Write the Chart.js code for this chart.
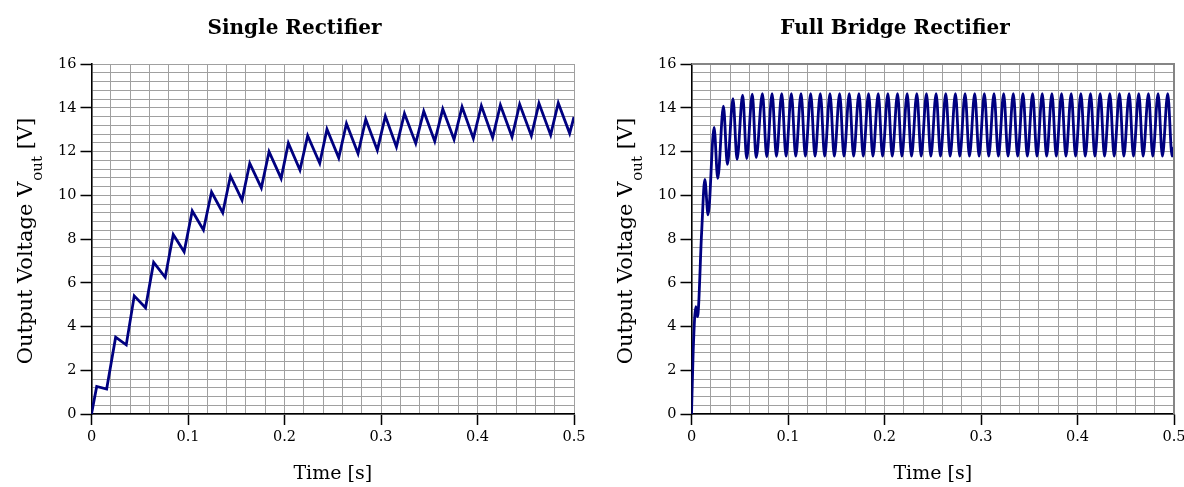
<!DOCTYPE html>
<html>
<head>
<meta charset="utf-8">
<script src="https://cdn.jsdelivr.net/npm/chart.js@4.4.1/dist/chart.umd.min.js"></script>
<style>
  body { margin: 0; background: #fff; }
  #wrap { position: relative; width: 1184px; height: 487px; overflow: hidden; }
  canvas { position: absolute; top: 0; }
</style>
</head>
<body>
<div id="wrap">
  <canvas id="single" width="592" height="487" style="left:0"></canvas>
  <canvas id="bridge" width="600" height="487" style="left:592px"></canvas>
</div>
<script>
// half wave rectifier (trough / peak pairs)
const singleTime = [0, 0.0054, 0.0157, 0.025, 0.036, 0.0443, 0.056, 0.0644, 0.0764, 0.0847,
  0.096, 0.1044, 0.116, 0.1244, 0.136, 0.144, 0.156, 0.164, 0.176, 0.184,
  0.1965, 0.204, 0.216, 0.224, 0.2365, 0.244, 0.2562, 0.2642, 0.2762, 0.2842,
  0.2962, 0.3045, 0.316, 0.3243, 0.336, 0.3443, 0.3557, 0.364, 0.3757, 0.384,
  0.3957, 0.404, 0.4157, 0.4237, 0.4358, 0.4437, 0.4558, 0.4637, 0.4758, 0.4837,
  0.4955, 0.5];
const singleVolt = [0, 1.26, 1.14, 3.51, 3.16, 5.40, 4.86, 6.93, 6.25, 8.21,
  7.42, 9.28, 8.41, 10.15, 9.20, 10.88, 9.78, 11.46, 10.34, 11.99,
  10.77, 12.38, 11.15, 12.72, 11.46, 13.02, 11.71, 13.28, 11.91, 13.47,
  12.06, 13.62, 12.21, 13.74, 12.37, 13.84, 12.47, 13.94, 12.55, 14.04,
  12.60, 14.09, 12.64, 14.12, 12.67, 14.16, 12.72, 14.20, 12.76, 14.22,
  12.83, 13.58];

// full bridge, right plot
const bridgeTime = [0, 0.0017, 0.0045, 0.0062, 0.0105, 0.0138, 0.0172, 0.0234, 0.0272, 0.0331,
  0.0372, 0.043, 0.0472, 0.053, 0.0572, 0.063, 0.067,
  0.0735, 0.078, 0.0835, 0.088, 0.0935, 0.098, 0.1035, 0.108, 0.1135, 0.118,
  0.1235, 0.128, 0.1335, 0.138, 0.1435, 0.148, 0.1535, 0.158, 0.1635, 0.168,
  0.1735, 0.178, 0.1835, 0.188, 0.1935, 0.198, 0.2035, 0.208, 0.2135, 0.218,
  0.2235, 0.228, 0.2335, 0.238, 0.2435, 0.248, 0.2535, 0.258, 0.2635, 0.268,
  0.2735, 0.278, 0.2835, 0.288, 0.2935, 0.298, 0.3035, 0.308, 0.3135, 0.318,
  0.3235, 0.328, 0.3335, 0.338, 0.3435, 0.348, 0.3535, 0.358, 0.3635, 0.368,
  0.3735, 0.378, 0.3835, 0.388, 0.3935, 0.398, 0.4035, 0.408, 0.4135, 0.418,
  0.4235, 0.428, 0.4335, 0.438, 0.4435, 0.448, 0.4535, 0.458, 0.4635, 0.468,
  0.4735, 0.478, 0.4835, 0.488, 0.4935, 0.498, 0.5];
const bridgeVolt = [0, 2.80, 4.91, 4.45, 8.30, 10.73, 9.10, 13.10, 10.77, 14.07,
  11.41, 14.42, 11.64, 14.58, 11.68, 14.62, 11.72,
  14.64, 11.76, 14.65, 11.78, 14.65, 11.79, 14.65, 11.79, 14.65, 11.79,
  14.65, 11.79, 14.65, 11.79, 14.65, 11.79, 14.65, 11.79, 14.65, 11.79,
  14.65, 11.79, 14.65, 11.79, 14.65, 11.79, 14.65, 11.79, 14.65, 11.79,
  14.65, 11.79, 14.65, 11.79, 14.65, 11.79, 14.65, 11.79, 14.65, 11.79,
  14.65, 11.79, 14.65, 11.79, 14.65, 11.79, 14.65, 11.79, 14.65, 11.79,
  14.65, 11.79, 14.65, 11.79, 14.65, 11.79, 14.65, 11.79, 14.65, 11.79,
  14.65, 11.79, 14.65, 11.79, 14.65, 11.79, 14.65, 11.79, 14.65, 11.79,
  14.65, 11.79, 14.65, 11.79, 14.65, 11.79, 14.65, 11.79, 14.65, 11.79,
  14.65, 11.79, 14.65, 11.79, 14.65, 11.79, 12.20];

const xTicks = ['0', '0.1', '0.2', '0.3', '0.4', '0.5'];
const yTicks = ['0', '2', '4', '6', '8', '10', '12', '14', '16'];

const FONT = '"DejaVu Serif", serif';
const LINE = '#000080';
Chart.defaults.font.family = FONT;
Chart.defaults.color = '#000';

const near = (v, step) => Math.abs(v / step - Math.round(v / step)) < 1e-6;

// y title with subscript, canvas title can't do sub
const yTitle = {
  id: 'yTitle',
  afterDraw(chart) {
    const { ctx, chartArea: a } = chart;
    const big = '21px ' + FONT, small = '15px ' + FONT;
    const t1 = 'Output Voltage V', t2 = 'out', t3 = ' [V]';
    ctx.save();
    ctx.fillStyle = '#000';
    ctx.textBaseline = 'alphabetic';
    ctx.font = big;
    const w1 = ctx.measureText(t1).width, w3 = ctx.measureText(t3).width;
    ctx.font = small;
    const w2 = ctx.measureText(t2).width;
    ctx.translate(a.left - 60, (a.top + a.bottom) / 2 + 2);
    ctx.rotate(-Math.PI / 2);
    let x = -(w1 + w2 + w3 + 1) / 2;
    ctx.font = big; ctx.fillText(t1, x, 0); x += w1 + 1;
    ctx.font = small; ctx.fillText(t2, x, 10); x += w2;
    ctx.font = big; ctx.fillText(t3, x, 0);
    ctx.restore();
  }
};

const frame = {
  id: 'frame',
  afterDraw(chart, args, opts) {
    if (!opts.on) return;
    const { ctx, chartArea: a } = chart;
    ctx.save();
    ctx.strokeStyle = '#858585';
    ctx.lineWidth = 2;
    ctx.beginPath();
    ctx.moveTo(a.left, a.top);
    ctx.lineTo(a.right, a.top);
    ctx.lineTo(a.right, a.bottom);
    ctx.stroke();
    ctx.restore();
  }
};

function makeChart(id, title, time, volt, o) {
  return new Chart(document.getElementById(id), {
    type: 'line',
    data: {
      datasets: [{
        data: time.map((t, i) => ({ x: t, y: volt[i] })),
        borderColor: LINE,
        borderWidth: 2.8,
        pointRadius: 0,
        tension: o.smooth ? 0.4 : 0,
        cubicInterpolationMode: o.smooth ? 'monotone' : 'default',
        fill: false
      }]
    },
    options: {
      responsive: false,
      animation: false,
      layout: { padding: { left: o.padL, right: o.padR, top: 0, bottom: 0 } },
      plugins: {
        legend: { display: false },
        tooltip: { enabled: false },
        title: {
          display: true, text: title, color: '#000',
          font: { family: FONT, size: 20, weight: 'bold' },
          padding: { top: 17, bottom: 23 }
        },
        frame: { on: o.frame }
      },
      scales: {
        x: {
          type: 'linear', min: 0, max: 0.5,
          afterFit: s => { s.height = 73; },
          ticks: {
            stepSize: 0.02, autoSkip: false, maxRotation: 0, padding: 4,
            maxTicksLimit: 100,
            font: { size: 14.5 },
            callback: v => near(v, 0.1) ? xTicks[Math.round(v * 10)] : ''
          },
          grid: {
            color: '#a0a0a0', lineWidth: 1, tickLength: 11, tickWidth: 1.5,
            tickColor: c => (c.tick && near(c.tick.value, 0.1)) ? '#000' : 'rgba(0,0,0,0)'
          },
          border: { color: '#000', width: 1.6 },
          title: {
            display: true, text: 'Time [s]', color: '#000',
            font: { size: 19 }, padding: { top: 0, bottom: 2 }
          }
        },
        y: {
          type: 'linear', min: 0, max: 16,
          afterFit: s => { s.width = o.yW; },
          ticks: {
            stepSize: 0.4, autoSkip: false, padding: 4, maxTicksLimit: 100,
            font: { size: 14.5 },
            callback: v => near(v, 2) ? yTicks[Math.round(v / 2)] : ''
          },
          grid: {
            color: '#a0a0a0', lineWidth: 1, tickLength: 11, tickWidth: 1.5,
            tickColor: c => (c.tick && near(c.tick.value, 2)) ? '#000' : 'rgba(0,0,0,0)'
          },
          border: { color: '#000', width: 1.6 }
        }
      }
    },
    plugins: [yTitle, frame]
  });
}

makeChart('single', 'Single Rectifier', singleTime, singleVolt,
  { padL: 15, padR: 18, yW: 76.5, smooth: false, frame: false });
makeChart('bridge', 'Full Bridge Rectifier', bridgeTime, bridgeVolt,
  { padL: 24, padR: 18, yW: 75.5, smooth: true, frame: true });
</script>
</body>
</html>
